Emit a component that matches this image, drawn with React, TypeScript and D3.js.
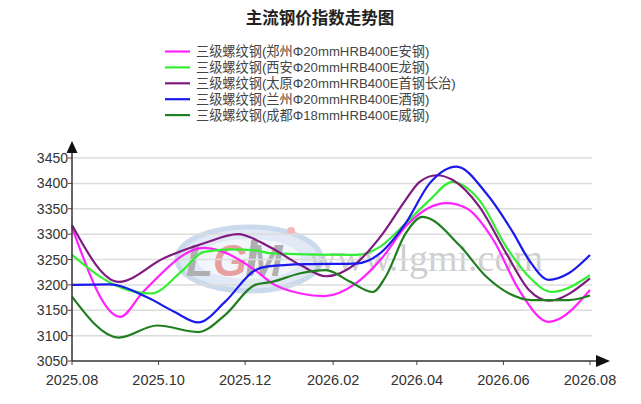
import React from "react";
import * as d3 from "d3";

type Point = [string, number];

interface Series {
  name: string;
  color: string;
  points: Point[];
}

// 郑州Φ20mmHRB400E安钢
const zhengzhou: Point[] = [
  ["2025-08-01", 3314], ["2025-09-04", 3137], ["2025-09-20", 3186],
  ["2025-11-02", 3273], ["2025-12-08", 3229], ["2025-12-20", 3203],
  ["2026-01-09", 3183], ["2026-01-26", 3178], ["2026-02-17", 3203],
  ["2026-03-08", 3255], ["2026-03-24", 3315], ["2026-04-22", 3361],
  ["2026-05-06", 3351], ["2026-05-25", 3288], ["2026-06-12", 3190],
  ["2026-07-03", 3127], ["2026-08-01", 3190],
];

// 西安Φ20mmHRB400E龙钢
const xian: Point[] = [
  ["2025-08-01", 3259], ["2025-08-31", 3200], ["2025-09-26", 3183],
  ["2025-10-17", 3226], ["2025-11-02", 3265], ["2025-11-21", 3270],
  ["2025-12-08", 3268], ["2025-12-20", 3262], ["2026-02-17", 3259],
  ["2026-03-06", 3275], ["2026-03-24", 3321], ["2026-04-10", 3367],
  ["2026-04-26", 3403], ["2026-05-15", 3367], ["2026-06-03", 3275],
  ["2026-06-19", 3216], ["2026-07-05", 3186], ["2026-08-01", 3219],
];

// 太原Φ20mmHRB400E首钢长治
const taiyuan: Point[] = [
  ["2025-08-01", 3318], ["2025-09-03", 3206], ["2025-10-05", 3253],
  ["2025-11-02", 3282], ["2025-11-26", 3300], ["2025-12-18", 3275],
  ["2026-01-09", 3239], ["2026-01-27", 3217], ["2026-02-17", 3242],
  ["2026-03-08", 3301], ["2026-03-24", 3367], ["2026-04-03", 3403],
  ["2026-04-15", 3416], ["2026-04-26", 3407], ["2026-05-15", 3354],
  ["2026-06-03", 3262], ["2026-06-19", 3190], ["2026-07-03", 3169],
  ["2026-08-01", 3213],
];

// 兰州Φ20mmHRB400E酒钢
const lanzhou: Point[] = [
  ["2025-08-01", 3200], ["2025-08-27", 3201], ["2025-09-24", 3174],
  ["2025-10-12", 3147], ["2025-10-29", 3126], ["2025-11-17", 3167],
  ["2025-12-08", 3229], ["2025-12-16", 3236], ["2026-01-13", 3241],
  ["2026-02-17", 3242], ["2026-03-06", 3262], ["2026-03-24", 3321],
  ["2026-04-10", 3400], ["2026-04-29", 3433], ["2026-05-20", 3380],
  ["2026-06-08", 3302], ["2026-06-19", 3249], ["2026-07-03", 3210],
  ["2026-07-17", 3223], ["2026-08-01", 3259],
];

// 成都Φ18mmHRB400E威钢
const chengdu: Point[] = [
  ["2025-08-01", 3177], ["2025-09-03", 3096], ["2025-09-30", 3120],
  ["2025-10-29", 3107], ["2025-11-17", 3141], ["2025-12-08", 3200],
  ["2025-12-20", 3206], ["2026-01-09", 3223], ["2026-01-27", 3229],
  ["2026-02-13", 3206], ["2026-03-01", 3186], ["2026-03-10", 3216],
  ["2026-03-24", 3301], ["2026-04-05", 3334], ["2026-05-01", 3278],
  ["2026-05-20", 3216], ["2026-06-05", 3183], ["2026-06-21", 3170],
  ["2026-07-17", 3170], ["2026-08-01", 3179],
];

const series: Series[] = [
  { name: "三级螺纹钢(郑州Φ20mmHRB400E安钢)", color: "#ff22ff", points: zhengzhou },
  { name: "三级螺纹钢(西安Φ20mmHRB400E龙钢)", color: "#33ee33", points: xian },
  { name: "三级螺纹钢(太原Φ20mmHRB400E首钢长治)", color: "#801a80", points: taiyuan },
  { name: "三级螺纹钢(兰州Φ20mmHRB400E酒钢)", color: "#1a1aee", points: lanzhou },
  { name: "三级螺纹钢(成都Φ18mmHRB400E威钢)", color: "#1f7f1f", points: chengdu },
];

const xTickLabels = ["2025-08", "2025-10", "2025-12", "2026-02", "2026-04", "2026-06", "2026-08"];
const yTicks = [3050, 3100, 3150, 3200, 3250, 3300, 3350, 3400, 3450];

const WIDTH = 641;
const HEIGHT = 404;
const left = 72;
const right = 590;
const top = 158;
const bottom = 361;

const parseDay = d3.timeParse("%Y-%m-%d");
const parseMonth = d3.timeParse("%Y-%m");
const fmt = d3.timeFormat("%Y.%m");

const font = "'Liberation Sans', Arial, 'Noto Sans CJK SC', sans-serif";

const App: React.FC = () => {
  const x = d3
    .scaleTime()
    .domain([parseMonth("2025-08") as Date, parseMonth("2026-08") as Date])
    .range([left, right]);
  const y = d3.scaleLinear().domain([3050, 3450]).range([bottom, top]);

  const line = d3
    .line<Point>()
    .x((d) => x(parseDay(d[0]) as Date))
    .y((d) => y(d[1]))
    .curve(d3.curveMonotoneX);

  return (
    <svg
      width={WIDTH}
      height={HEIGHT}
      style={{ position: "absolute", left: 0, top: 0, background: "#fff" }}
    >
      <text
        x={320}
        y={23.5}
        textAnchor="middle"
        fontFamily="'Noto Sans CJK SC', sans-serif"
        fontWeight="bold"
        fontSize={16.5}
        fill="#222"
      >
        主流钢价指数走势图
      </text>

      {series.map((s, i) => (
        <g key={s.name} transform={`translate(0,${51.5 + i * 15.9})`}>
          <line x1={165} x2={190} y1={0} y2={0} stroke={s.color} strokeWidth={2.2} />
          <text x={196} y={4.5} fontFamily={font} fontSize={13.2} fill="#444">
            {s.name}
          </text>
        </g>
      ))}

      {/* watermark */}
      <g opacity={0.75}>
        <ellipse cx={249} cy={259} rx={72} ry={32} fill="#d6e2f2" stroke="#b9cde6" strokeWidth={5} />
        <ellipse cx={249} cy={259} rx={52} ry={20} fill="#eef3fa" />
        <text x={186} y={276} fontFamily="'Liberation Sans', sans-serif" fontWeight="bold" fontStyle="italic" fontSize={44} fill="#959595">
          L
        </text>
        <text x={213} y={276} fontFamily="'Liberation Sans', sans-serif" fontWeight="bold" fontStyle="italic" fontSize={44} fill="#e08080">
          G
        </text>
        <text x={246} y={276} fontFamily="'Liberation Sans', sans-serif" fontWeight="bold" fontStyle="italic" fontSize={44} fill="#959595">
          M
        </text>
        <rect x={285} y={240} width={7} height={35} fill="#959595" transform="skewX(-8)" />
        <circle cx={291} cy={231} r={4} fill="#f0a0a0" />
      </g>
      <text
        x={309}
        y={271}
        fontFamily="'Liberation Serif', 'DejaVu Serif', serif"
        fontSize={38}
        fill="#c4c4c4"
        opacity={0.8}
      >
        www.lgmi.com
      </text>

      {yTicks.map((t) => (
        <g key={t}>
          {t > 3050 && (
            <line x1={left} x2={right + 2} y1={y(t)} y2={y(t)} stroke="#dcdcdc" strokeWidth={1.5} />
          )}
          <line x1={left - 4} x2={left} y1={y(t)} y2={y(t)} stroke="#444" strokeWidth={1} />
          <text
            x={left - 4}
            y={y(t) + 5}
            textAnchor="end"
            fontFamily={font}
            fontSize={14}
            fill="#333"
          >
            {t}
          </text>
        </g>
      ))}

      {xTickLabels.map((m) => {
        const xp = x(parseMonth(m) as Date);
        return (
          <g key={m}>
            <line x1={xp} x2={xp} y1={bottom} y2={bottom + 4} stroke="#444" strokeWidth={1} />
            <text x={xp} y={385} textAnchor="middle" fontFamily={font} fontSize={14.5} fill="#333">
              {fmt(parseMonth(m) as Date)}
            </text>
          </g>
        );
      })}

      {series.map((s) => (
        <path key={s.name} d={line(s.points) || ""} fill="none" stroke={s.color} strokeWidth={2.2} />
      ))}

      {/* axes */}
      <line x1={left} x2={left} y1={bottom} y2={150} stroke="#333" strokeWidth={1.5} />
      <path d={`M${left - 5.5},${153} L${left},${141} L${left + 5.5},${153} Z`} fill="#111" />
      <line x1={left} x2={598} y1={bottom} y2={bottom} stroke="#333" strokeWidth={1.5} />
      <path d={`M${596},${bottom - 6} L${610},${bottom} L${596},${bottom + 6} Z`} fill="#111" />
    </svg>
  );
};

export default App;
